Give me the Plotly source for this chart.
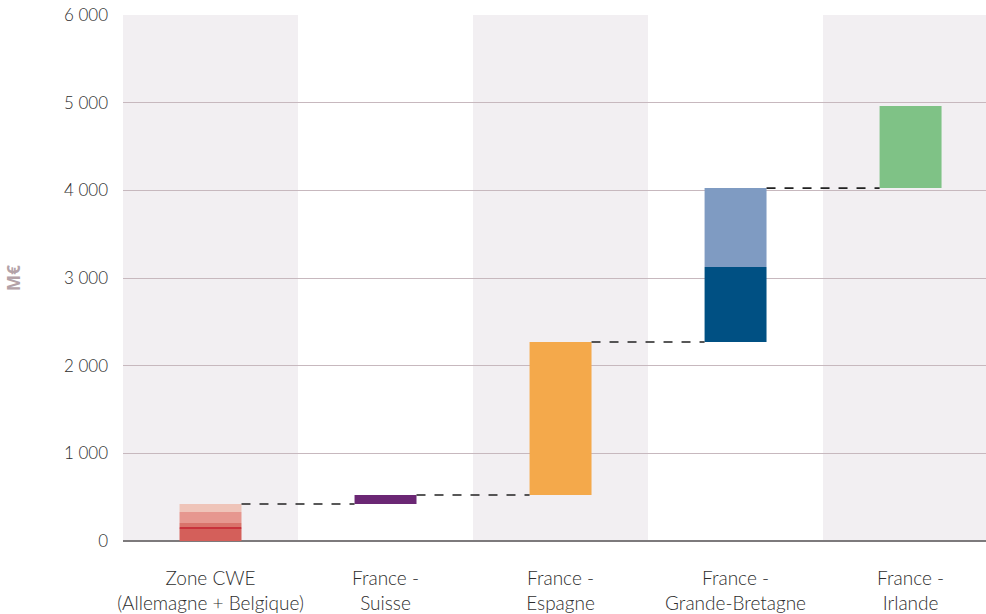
import plotly.graph_objects as go

categories = ["Zone CWE<br>(Allemagne + Belgique)", "France -<br>Suisse", "France -<br>Espagne",
              "France -<br>Grande-Bretagne", "France -<br>Irlande"]

# stacked segments per category (M€), bottom to top
segments = [
    [140, 20, 45, 126, 91],   # Zone CWE
    [103],                    # Suisse
    [1745],                   # Espagne
    [855, 901],               # Grande-Bretagne
    [936],                    # Irlande
]
seg_colors = [
    ["#d45f5a", "#c8323b", "#d9736b", "#e6978f", "#efc4b9"],
    ["#6b2774"],
    ["#f4a94b"],
    ["#005083", "#7f9bc2"],
    ["#7fc286"],
]

y_ticks = [0, 1000, 2000, 3000, 4000, 5000, 6000]

fig = go.Figure()

bar_w = 0.354
start = 0
totals = []
for i, (segs, cols) in enumerate(zip(segments, seg_colors)):
    base = start
    for v, c in zip(segs, cols):
        fig.add_trace(go.Bar(x=[i], y=[v], base=[base], width=bar_w, marker=dict(color=c, line=dict(width=0)),
                             showlegend=False, hoverinfo="skip"))
        base += v
    totals.append(base)
    start = base

shapes = []
# alternating background bands
for i in range(len(categories)):
    if i % 2 == 0:
        shapes.append(dict(type="rect", xref="x", yref="y", x0=i - 0.5, x1=i + 0.5, y0=0, y1=6000,
                           fillcolor="#f2eff2", line=dict(width=0), layer="below"))
# dashed connectors
for i in range(len(categories) - 1):
    shapes.append(dict(type="line", xref="x", yref="y", x0=i + bar_w / 2, x1=i + 1 - bar_w / 2,
                       y0=totals[i], y1=totals[i], line=dict(color="#222222", width=1.7, dash="dash"),
                       layer="above"))

fig.update_layout(
    width=986, height=614,
    margin=dict(l=123, r=0, t=15, b=73),
    paper_bgcolor="white", plot_bgcolor="white",
    barmode="overlay",
    separators=", ",
    shapes=shapes,
    font=dict(family="Lato", size=17, color="#2e2e2e", weight=300),
    xaxis=dict(tickvals=list(range(len(categories))), ticktext=categories, range=[-0.5, 4.431],
               showgrid=False, zeroline=False, showline=False, ticks="", ticklabelstandoff=24,
               tickfont=dict(family="Lato", size=19, color="#2e2e2e", weight=300),
               fixedrange=True),
    yaxis=dict(range=[0, 6000], tickvals=y_ticks, tickformat=",d", showgrid=True, gridcolor="#c7b8be",
               gridwidth=1, zeroline=True, zerolinecolor="#7d7a7c", zerolinewidth=2, showline=False,
               ticks="", ticklabelstandoff=14,
               tickfont=dict(family="Lato", size=17, color="#2e2e2e", weight=300),
               title=dict(text="<b>M€</b>", font=dict(family="Open Sans", size=17, color="#b3a2a8", weight=800),
                          standoff=38)),
)

fig.write_html("out.html")
